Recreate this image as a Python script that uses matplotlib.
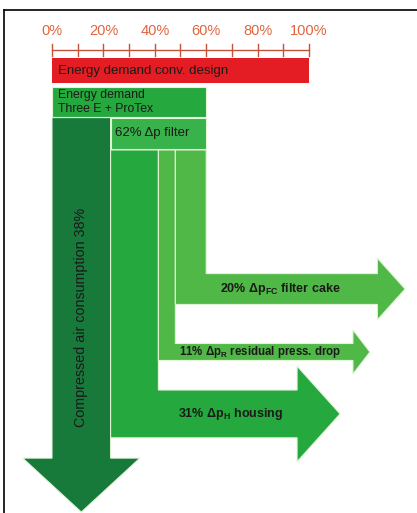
import matplotlib
matplotlib.use("Agg")
import matplotlib.pyplot as plt
from matplotlib.patches import Polygon, Rectangle
from matplotlib.lines import Line2D

# values (percent)
tick_values = [0, 10, 20, 30, 40, 50, 60, 70, 80, 90, 100]
tick_labels = ["0%", "20%", "40%", "60%", "80%", "100%"]
conv_demand = 100
protex_demand = 60
air_share = 38       # % of the Three E + ProTex demand
filter_share = 62
branch_names = ["housing", "residual", "cake"]
branch_share = [31, 11, 20]
branch_labels = [
    "31% \u0394p$_{\\mathbf{H}}$ housing",
    "11% \u0394p$_{\\mathbf{R}}$ residual press. drop",
    "20% \u0394p$_{\\mathbf{FC}}$ filter cake",
]

FONT = ["Liberation Sans", "DejaVu Sans"]
plt.rcParams["font.family"] = FONT
plt.rcParams["mathtext.fontset"] = "custom"
plt.rcParams["mathtext.rm"] = "Liberation Sans"
plt.rcParams["mathtext.bf"] = "Liberation Sans:bold"

RED = "#e31d23"
AXIS_RED = "#e0653e"
GREEN = "#25a83e"
GREEN_FILTER = "#38b24a"
GREEN_LIGHT = "#50b846"
DARK = "#17793a"
EDGE = "#e2f3d8"

fig = plt.figure(figsize=(4.17, 5.13), dpi=100)
ax = fig.add_axes([0, 0, 1, 1])
# 1 percent = 2.57 px, 0% at x=52 px, axis line at y=50 px
s = 2.57
ax.set_xlim(-52 / s, (417 - 52) / s)
ax.set_ylim((513 - 50) / s, -50 / s)
ax.axis("off")

# percent scale on top
ax.plot([0, 100], [0, 0], color="#c0553a", lw=1.0)
for t in tick_values:
    ax.plot([t, t], [-2.4, 2.4], color="#c0553a", lw=1.0)
for i, lab in enumerate(tick_labels):
    ax.text(i * 20, -7.4, lab, ha="center", va="center", color=AXIS_RED, fontsize=10.5)

# conventional design bar
ax.add_patch(Rectangle((0, 3.1), conv_demand, 9.7, facecolor=RED, edgecolor="none"))
ax.text(2.3, 8.0, "Energy demand conv. design", va="center", fontsize=9.5, color="#1a1a1a")

# Three E + ProTex bar
ax.add_patch(Rectangle((0, 14.4), protex_demand, 11.8, facecolor=GREEN, edgecolor=EDGE, lw=0.8))
ax.text(2.3, 20.2, "Energy demand\nThree E + ProTex", va="center", fontsize=8.8,
        color="#1a1a1a", linespacing=1.15)

air_w = protex_demand * air_share / 100
filter_w = protex_demand * filter_share / 100

# compressed air arrow (downwards)
top, head_y, tip_y = 26.3, 158.8, 179.8
cx = air_w / 2
pts = [(0, top), (air_w, top), (air_w, head_y), (cx + air_w, head_y),
       (cx, tip_y), (cx - air_w, head_y), (0, head_y)]
ax.add_patch(Polygon(pts, closed=True, facecolor=DARK, edgecolor=EDGE, lw=0.8, zorder=2))
ax.text(cx, 104, "Compressed air consumption %d%%" % air_share, rotation=90,
        ha="center", va="center", fontsize=10.3, color="#1a1a1a", zorder=5)

# delta p filter box
ax.add_patch(Rectangle((air_w, 26.3), filter_w, 12.3, facecolor=GREEN_FILTER,
                       edgecolor=EDGE, lw=0.8, zorder=3))
ax.text(air_w + 1.6, 32.4, "%d%% \u0394p filter" % filter_share, va="center",
        fontsize=9.5, color="#1a1a1a", zorder=5)

# branches: L-shaped arrows
band_center = {"housing": 141.6, "residual": 117.5, "cake": 93.0}
tip_x = {"housing": 112.1, "residual": 123.7, "cake": 137.4}
fills = {"housing": GREEN, "residual": GREEN_LIGHT, "cake": GREEN_LIGHT}
label_x = {"housing": 69.6, "residual": 81.0, "cake": 89.0}
strip_top = 38.9
x0 = air_w
for name, share, lab in zip(branch_names, branch_share, branch_labels):
    w = protex_demand * share / 100
    yc = band_center[name]
    yt, yb = yc - w / 2, yc + w / 2
    head = w * 0.8 if name == "residual" else w / 2
    hl = max(w * 0.9, 6.6)
    xt = tip_x[name]
    xb = xt - hl
    pts = [(x0, strip_top), (x0 + w, strip_top), (x0 + w, yt), (xb, yt),
           (xb, yt - head), (xt, yc), (xb, yb + head), (xb, yb), (x0, yb)]
    ax.add_patch(Polygon(pts, closed=True, facecolor=fills[name], edgecolor=EDGE,
                         lw=0.8, zorder=3))
    ax.text(label_x[name], yc, lab, ha="center", va="center",
            fontsize=8.3 if name == "residual" else 9,
            color="#1a1a1a", fontweight="bold", zorder=5)
    x0 += w

# frame lines (top and left)
fig.add_artist(Line2D([3.5 / 417, 1], [1 - 9.5 / 513, 1 - 9.5 / 513],
                      transform=fig.transFigure, color="black", lw=1.2))
fig.add_artist(Line2D([3.5 / 417, 3.5 / 417], [0, 1 - 9.5 / 513],
                      transform=fig.transFigure, color="black", lw=1.2))

fig.savefig("out.png", dpi=100)
